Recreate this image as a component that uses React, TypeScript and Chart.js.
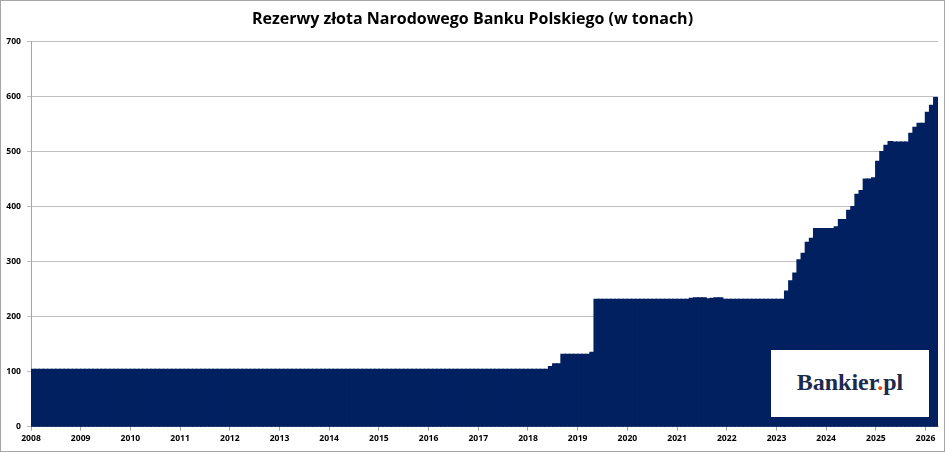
import React, { useEffect, useRef } from 'react';
import { Chart, registerables } from 'chart.js';

Chart.register(...registerables);

// Tick labels on the x axis (each marks January of the year)
const yearLabels = [
  '2008', '2009', '2010', '2011', '2012', '2013', '2014', '2015', '2016', '2017',
  '2018', '2019', '2020', '2021', '2022', '2023', '2024', '2025', '2026',
];

const monthNames = ['sty', 'lut', 'mar', 'kwi', 'maj', 'cze', 'lip', 'sie', 'wrz', 'paź', 'lis', 'gru'];

// Monthly gold reserves of NBP in tonnes, Jan 2008 – Mar 2026 (one row per year)
const goldTonnes = [
  104, 104, 104, 104, 104, 104, 104, 104, 104, 104, 104, 104, // 2008
  104, 104, 104, 104, 104, 104, 104, 104, 104, 104, 104, 104, // 2009
  104, 104, 104, 104, 104, 104, 104, 104, 104, 104, 104, 104, // 2010
  104, 104, 104, 104, 104, 104, 104, 104, 104, 104, 104, 104, // 2011
  104, 104, 104, 104, 104, 104, 104, 104, 104, 104, 104, 104, // 2012
  104, 104, 104, 104, 104, 104, 104, 104, 104, 104, 104, 104, // 2013
  104, 104, 104, 104, 104, 104, 104, 104, 104, 104, 104, 104, // 2014
  104, 104, 104, 104, 104, 104, 104, 104, 104, 104, 104, 104, // 2015
  104, 104, 104, 104, 104, 104, 104, 104, 104, 104, 104, 104, // 2016
  104, 104, 104, 104, 104, 104, 104, 104, 104, 104, 104, 104, // 2017
  104, 104, 104, 104, 104, 109, 114, 114, 131, 131, 131, 131, // 2018
  131, 131, 131, 135, 231, 231, 231, 231, 231, 231, 231, 231, // 2019
  231, 231, 231, 231, 231, 231, 231, 231, 231, 231, 231, 231, // 2020
  231, 231, 231, 233, 234, 234, 234, 232, 233, 234, 234, 231, // 2021
  231, 231, 231, 231, 231, 231, 231, 231, 231, 231, 231, 231, // 2022
  231, 231, 246, 265, 279, 303, 315, 335, 342, 360, 360, 360, // 2023
  360, 360, 363, 376, 376, 393, 400, 422, 429, 450, 450, 452, // 2024
  482, 500, 511, 518, 517, 517, 517, 517, 533, 544, 551, 551, // 2025
  571, 584, 598,                                              // 2026
];

const yTicks = [0, 100, 200, 300, 400, 500, 600, 700];

// Category names (month + year) for each bar
const categories = goldTonnes.map(
  (_, i) => `${monthNames[i % 12]} ${yearLabels[Math.floor(i / 12)]}`
);

const TICK_FONT = { family: '"Open Sans", "DejaVu Sans", sans-serif', size: 8.6, weight: 'bold' as const };

export default function App() {
  const canvasRef = useRef<HTMLCanvasElement | null>(null);

  useEffect(() => {
    document.body.style.margin = '0';
    const canvas = canvasRef.current;
    if (!canvas) return;

    const points = goldTonnes.map((v, i) => ({ x: i + 0.5, y: v, name: categories[i] }));

    const chart = new Chart(canvas, {
      type: 'bar',
      data: {
        datasets: [
          {
            label: 'Rezerwy złota (t)',
            data: points as any,
            backgroundColor: '#002060',
            borderWidth: 0,
            inflateAmount: 0.8,
            barPercentage: 1,
            categoryPercentage: 1,
          } as any,
        ],
      },
      options: {
        animation: false,
        responsive: true,
        maintainAspectRatio: false,
        layout: { padding: { top: 41.7, right: 10, left: 0, bottom: 0 } },
        plugins: {
          legend: { display: false },
          title: { display: false },
          tooltip: { enabled: false },
        },
        scales: {
          x: {
            type: 'linear',
            offset: false,
            min: 0,
            max: goldTonnes.length,
            afterBuildTicks: (s: any) => {
              s.ticks = yearLabels.map((_, i) => ({ value: i * 12 }));
            },
            afterFit: (s: any) => {
              s.height = 25.3;
            },
            ticks: {
              autoSkip: false,
              maxRotation: 0,
              minRotation: 0,
              padding: 3,
              color: '#000',
              font: TICK_FONT,
              callback: (v: any) => yearLabels[Math.round(Number(v) / 12)] ?? '',
            },
            grid: {
              offset: false,
              drawOnChartArea: false,
              drawTicks: true,
              tickLength: 4,
              color: '#a6a6a6',
            },
            border: { display: true, color: '#a6a6a6' },
          },
          y: {
            min: 0,
            max: 700,
            afterBuildTicks: (s: any) => {
              s.ticks = yTicks.map((v) => ({ value: v }));
            },
            afterFit: (s: any) => {
              s.width = 31;
            },
            ticks: {
              padding: 6,
              color: '#000',
              font: TICK_FONT,
            },
            grid: {
              color: '#bfbfbf',
              tickLength: 4,
            },
            border: { display: true, color: '#a6a6a6' },
          },
        },
      },
    });

    return () => chart.destroy();
  }, []);

  return (
    <div
      style={{
        position: 'fixed',
        left: 0,
        top: 0,
        width: 948,
        height: 452,
        background: '#fff',
        overflow: 'hidden',
      }}
    >
      <div
        style={{
          position: 'absolute',
          left: 0,
          top: 0,
          width: 945,
          height: 452,
          boxSizing: 'border-box',
          border: '1px solid #a6a6a6',
          pointerEvents: 'none',
          zIndex: 3,
        }}
      />
      <div style={{ position: 'absolute', left: 0, top: 0, width: 948, height: 452 }}>
        <canvas ref={canvasRef} />
      </div>
      <div
        style={{
          position: 'absolute',
          left: 0,
          top: 8,
          width: 945,
          textAlign: 'center',
          fontFamily: '"Open Sans", "DejaVu Sans", sans-serif',
          fontWeight: 700,
          fontSize: 16,
          lineHeight: '20px',
          color: '#000',
          zIndex: 2,
        }}
      >
        Rezerwy złota Narodowego Banku Polskiego (w tonach)
      </div>
      <div
        style={{
          position: 'absolute',
          left: 771,
          top: 350,
          width: 158,
          height: 67,
          background: '#fff',
          zIndex: 2,
        }}
      >
        <div
          style={{
            position: 'absolute',
            left: 0,
            top: 19.3,
            width: 158,
            textAlign: 'center',
            fontFamily: '"Liberation Serif", "DejaVu Serif", serif',
            fontWeight: 700,
            fontSize: 24,
            lineHeight: '26.6px',
            color: '#1c2a4d',
            whiteSpace: 'nowrap',
          }}
        >
          Bankier<span style={{ color: '#e8481c' }}>.</span>pl
        </div>
      </div>
    </div>
  );
}
